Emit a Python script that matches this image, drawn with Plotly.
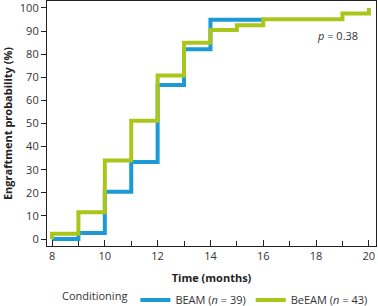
import plotly.graph_objects as go

# BEAM (n = 39)
beam_t = [8, 9, 10, 11, 12, 13, 14, 16]
beam_p = [0, 2.6, 20.5, 33.3, 66.7, 82.1, 94.9, 94.9]
# BeEAM (n = 43)
beeam_t = [8, 8, 9, 10, 11, 12, 13, 14, 15, 16, 19, 20, 20]
beeam_p = [0, 2.3, 11.6, 34.0, 51.2, 70.8, 84.9, 90.4, 92.5, 95.1, 97.6, 97.6, 100]

x_ticks = [8, 10, 12, 14, 16, 18, 20]
y_ticks = [0, 10, 20, 30, 40, 50, 60, 70, 80, 90, 100]

BLUE = "#1b9ad6"
GREEN = "#a9c61a"
FONT = "Open Sans"

fig = go.Figure()
fig.add_trace(go.Scatter(x=beam_t, y=beam_p, mode="lines", line_shape="hv",
                         line=dict(color=BLUE, width=4),
                         name="BEAM (<i>n</i> = 39)"))
fig.add_trace(go.Scatter(x=beeam_t, y=beeam_p, mode="lines", line_shape="hv",
                         line=dict(color=GREEN, width=4),
                         name="BeEAM (<i>n</i> = 43)"))

fig.add_annotation(x=18.83, y=88, xref="x", yref="y", text="<i>p</i> = 0.38",
                   showarrow=False, font=dict(family=FONT, size=11, color="#333"))

fig.update_layout(
    width=378, height=306,
    margin=dict(l=47, r=2, t=1, b=60, autoexpand=False),
    paper_bgcolor="white", plot_bgcolor="white",
    font=dict(family=FONT, size=11, color="#333"),
    showlegend=True,
    legend=dict(orientation="h", xref="container", yref="container",
                x=60 / 378, xanchor="left", y=6 / 306, yanchor="middle",
                title=dict(text="Conditioning", side="left",
                           font=dict(family=FONT, size=11, color="#333")),
                font=dict(family=FONT, size=11, color="#333"),
                itemwidth=30, tracegroupgap=0, bgcolor="rgba(0,0,0,0)"),
)
fig.update_xaxes(range=[7.81, 20.27], tickvals=x_ticks, ticks="inside", ticklen=6,
                 minor=dict(dtick=1, tick0=0, ticks="inside", ticklen=5, tickcolor="#222"),
                 showline=True, linecolor="#222", linewidth=1.2, mirror=True,
                 tickcolor="#222", showgrid=False, zeroline=False,
                 ticklabeloverflow="allow", ticklabelstandoff=0,
                 title=dict(text="<b>Time (months)</b>", standoff=12,
                            font=dict(family=FONT, size=11, color="#222")))
fig.update_yaxes(range=[-3, 103], tickvals=y_ticks, ticks="outside", ticklen=5,
                 showline=True, linecolor="#222", linewidth=1.2, mirror=True,
                 tickcolor="#222", showgrid=False, zeroline=False,
                 ticklabeloverflow="allow",
                 title=dict(text="<b>Engraftment probability (%)</b>", standoff=4,
                            font=dict(family=FONT, size=11, color="#222")))

fig.write_html("out.html", config={"displayModeBar": False},
               post_script="document.body.style.margin='0';")
